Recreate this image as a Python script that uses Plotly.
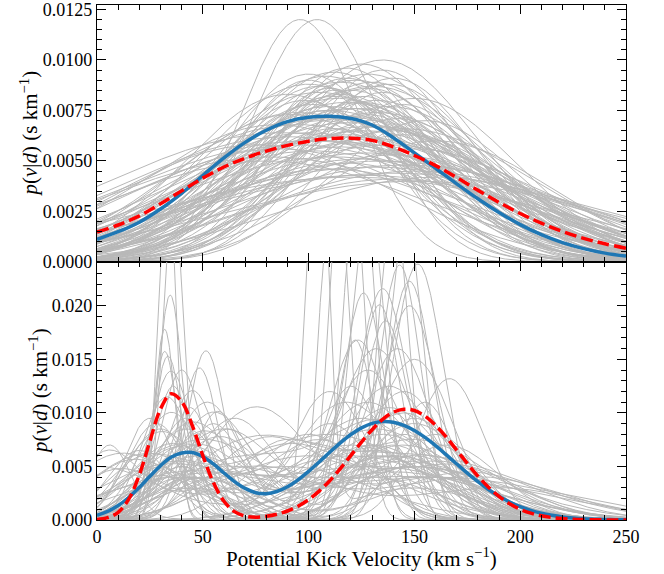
import numpy as np
import plotly.graph_objects as go

# ---------------- data ----------------
V_TOP = list(range(0, 251, 10))
TOP_BLUE = [0.00112, 0.00150, 0.00197, 0.00262, 0.00340, 0.00428, 0.00515, 0.00592,
            0.00652, 0.00695, 0.00716, 0.00721, 0.00710, 0.00678, 0.00615, 0.00540,
            0.00464, 0.00387, 0.00313, 0.00245, 0.00185, 0.00135, 0.00096, 0.00066,
            0.00044, 0.00029]
TOP_RED = [0.00148, 0.00183, 0.00228, 0.00288, 0.00352, 0.00415, 0.00470, 0.00514,
           0.00549, 0.00577, 0.00598, 0.00611, 0.00613, 0.00602, 0.00570, 0.00527,
           0.00477, 0.00418, 0.00355, 0.00295, 0.00240, 0.00192, 0.00151, 0.00117,
           0.00090, 0.00068]

V_BOT = list(range(0, 251, 5))
BOT_BLUE = [0.00044, 0.00080, 0.00135, 0.00210, 0.00304, 0.00408, 0.00507, 0.00585,
            0.00626, 0.00631, 0.00592, 0.00523, 0.00439, 0.00359, 0.00295, 0.00255,
            0.00246, 0.00266, 0.00310, 0.00375, 0.00454, 0.00542, 0.00633, 0.00720,
            0.00798, 0.00860, 0.00902, 0.00920, 0.00913, 0.00884, 0.00836, 0.00771,
            0.00695, 0.00610, 0.00523, 0.00438, 0.00358, 0.00285, 0.00222, 0.00168,
            0.00124, 0.00090, 0.00064, 0.00044, 0.00029, 0.00019, 0.00012, 0.00008,
            0.00005, 0.00003, 0.00002]
BOT_RED = [0.00005, 0.00022, 0.00072, 0.00195, 0.00421, 0.00735, 0.01036, 0.01179,
           0.01106, 0.00884, 0.00602, 0.00350, 0.00175, 0.00078, 0.00036, 0.00026,
           0.00035, 0.00054, 0.00084, 0.00129, 0.00191, 0.00270, 0.00367, 0.00480,
           0.00603, 0.00727, 0.00843, 0.00940, 0.01006, 0.01034, 0.01022, 0.00970,
           0.00885, 0.00775, 0.00653, 0.00528, 0.00410, 0.00306, 0.00220, 0.00152,
           0.00100, 0.00064, 0.00039, 0.00023, 0.00013, 0.00007, 0.00004, 0.00002,
           0.00001, 0.00000, 0.00000]

# grey posterior draws, top panel: peak location, width, peak height
TOP_MU = [96, 104, 135, 125, 118, 112, 128, 108, 140, 122, 115, 100, 130, 110, 120, 105,
          90, 126, 114, 132, 118, 102, 138, 124, 110, 95, 128, 116, 142, 106, 120, 85,
          134, 112, 126, 100, 145, 118, 90, 130, 108, 122, 138, 115, 150, 102, 128, 140,
          112, 125, 135, 118, 145, 130, 110, 150, 140, 125, 140, 160, 86, 80, 75, 95,
          100, 112, 122, 135, 145, 155, 108, 98, 130, 120, 140, 160, 150, 120,
          115, 125, 105, 132, 118, 128, 110, 138, 122, 100, 145, 112, 130, 120, 108, 135,
          92, 150, 127, 117, 88, 95, 82, 100]
TOP_SIG = [28, 30, 45, 42, 40, 44, 48, 46, 40, 50, 52, 50, 55, 38, 45, 55,
           48, 36, 58, 50, 62, 44, 52, 56, 60, 58, 40, 66, 46, 52, 70, 62,
           60, 48, 64, 66, 55, 72, 80, 68, 75, 58, 72, 62, 60, 70, 78, 65,
           80, 70, 85, 55, 80, 90, 68, 75, 95, 85, 70, 72, 70, 75, 65, 72,
           36, 32, 30, 35, 38, 45, 40, 42, 44, 35, 50, 55, 90, 95,
           48, 52, 45, 58, 42, 46, 54, 44, 60, 40, 62, 50, 47, 56, 65, 38,
           55, 48, 68, 74, 85, 78, 80, 88]
TOP_AMP = [0.0120, 0.0120, 0.0100, 0.0098, 0.0096, 0.0094, 0.0093, 0.0092, 0.0091, 0.0090,
           0.0089, 0.0088, 0.0087, 0.0086, 0.0085, 0.0084, 0.0083, 0.0082, 0.0081, 0.0080,
           0.0079, 0.0078, 0.0077, 0.0076, 0.0075, 0.0074, 0.0073, 0.0072, 0.0071, 0.0070,
           0.0069, 0.0068, 0.0067, 0.0066, 0.0065, 0.0064, 0.0063, 0.0062, 0.0062, 0.0061,
           0.0060, 0.0059, 0.0058, 0.0057, 0.0056, 0.0055, 0.0054, 0.0053, 0.0052, 0.0051,
           0.0050, 0.0049, 0.0048, 0.0047, 0.0046, 0.0045, 0.0044, 0.0043, 0.0041, 0.0042,
           0.0056, 0.0050, 0.0058, 0.0068, 0.0090, 0.0085, 0.0080, 0.0084, 0.0078, 0.0070,
           0.0075, 0.0080, 0.0070, 0.0065, 0.0065, 0.0060, 0.0040, 0.0042,
           0.0083, 0.0079, 0.0087, 0.0074, 0.0091, 0.0086, 0.0077, 0.0088, 0.0072, 0.0093,
           0.0066, 0.0082, 0.0089, 0.0076, 0.0071, 0.0095, 0.0073, 0.0081, 0.0067, 0.0063,
           0.0064, 0.0058, 0.0052, 0.0060]

# grey posterior draws, bottom panel: two components each (location, width, height)
BOT_MU1 = [33, 36, 34.6, 32, 32, 33.5, 51.5, 48.4, 40, 35, 104, 118, 124, 128, 126, 122,
           151.6, 143, 147.6, 135, 133.5, 147.7, 136.4, 123.3, 166.6, 140, 146, 112,
           75, 6, 45, 55, 30, 60, 25, 40, 50, 20, 35, 45, 65, 80, 90, 38, 28, 52, 42,
           58, 33, 47, 15, 30, 60, 40, 70, 25, 44, 36, 55, 20, 65, 48, 35, 85, 10, 50,
           38, 30, 57, 42, 75, 5, 40, 62, 100, 110, 0, 12]
BOT_SIG1 = [4, 5, 6, 5, 6, 7, 9, 9, 10, 10, 5, 7, 7, 8, 10, 9,
            12, 10, 11, 12, 10, 13, 11, 14, 16, 7, 8, 6,
            25, 10, 20, 18, 18, 25, 20, 25, 30, 25, 15, 12, 20, 25, 30, 22, 14, 16, 18,
            22, 12, 20, 20, 30, 40, 35, 30, 12, 10, 9, 14, 15, 30, 25, 20, 20, 20, 18,
            28, 16, 12, 14, 35, 15, 40, 15, 25, 18, 30, 25]
BOT_AMP1 = [0.035, 0.030, 0.021, 0.0178, 0.0157, 0.0153, 0.0158, 0.0142, 0.0140, 0.0139,
            0.040, 0.040, 0.035, 0.030, 0.0212, 0.0168, 0.0239, 0.0238, 0.0223, 0.0216,
            0.0201, 0.0200, 0.0186, 0.0168, 0.0132, 0.030, 0.028, 0.035,
            0.0105, 0.0070, 0.0090, 0.0100, 0.0080, 0.0085, 0.0060, 0.0070, 0.0075, 0.0055,
            0.0100, 0.0120, 0.0095, 0.0075, 0.0070, 0.0065, 0.0090, 0.0110, 0.0085, 0.0078,
            0.0115, 0.0068, 0.0050, 0.0045, 0.0050, 0.0040, 0.0060, 0.0095, 0.0105, 0.0125,
            0.0090, 0.0065, 0.0055, 0.0060, 0.0070, 0.0060, 0.0045, 0.0080, 0.0055, 0.0085,
            0.0100, 0.0095, 0.0050, 0.0060, 0.0035, 0.0085, 0.0080, 0.0120, 0.0050, 0.0062]
BOT_MU2 = [140, 130, 140, 145, 125, 150, 140, 130, 150, 135, 150, 40, 45, 35, 40, 50,
           40, 30, 55, 45, 35, 60, 40, 30, 45, 50, 40, 150,
           160, 130, 140, 145, 120, 150, 130, 150, 160, 110, 125, 135, 145, 155, 170, 140,
           118, 138, 128, 150, 142, 132, 100, 130, 180, 160, 150, 110, 160, 155, 120, 145,
           135, 165, 105, 150, 120, 145, 175, 138, 128, 150, 190, 90, 150, 132, 30, 40,
           130, 150]
BOT_SIG2 = [25, 30, 22, 20, 30, 25, 15, 20, 30, 25, 30, 20, 15, 20, 15, 20,
            15, 12, 15, 20, 10, 20, 18, 15, 20, 20, 15, 25,
            30, 30, 35, 30, 35, 25, 40, 40, 35, 40, 28, 30, 20, 30, 30, 45,
            25, 22, 18, 18, 16, 32, 40, 50, 40, 60, 50, 20, 20, 14, 14, 25,
            28, 25, 25, 35, 45, 40, 35, 26, 24, 22, 40, 40, 60, 18, 15, 12,
            35, 45]
BOT_AMP2 = [0.006, 0.004, 0.007, 0.008, 0.005, 0.006, 0.010, 0.007, 0.005, 0.006,
            0.003, 0.003, 0.004, 0.004, 0.005, 0.004, 0.004, 0.005, 0.004, 0.003,
            0.006, 0.003, 0.004, 0.005, 0.004, 0.004, 0.005, 0.004,
            0.0040, 0.0070, 0.0060, 0.0070, 0.0070, 0.0090, 0.0065, 0.0050, 0.0055, 0.0080,
            0.0095, 0.0080, 0.0120, 0.0060, 0.0050, 0.0045, 0.0110, 0.0125, 0.0140, 0.0150,
            0.0160, 0.0085, 0.0060, 0.0050, 0.0040, 0.0040, 0.0060, 0.0090, 0.0080, 0.0110,
            0.0125, 0.0100, 0.0090, 0.0070, 0.0075, 0.0075, 0.0060, 0.0055, 0.0045, 0.0105,
            0.0110, 0.0095, 0.0030, 0.0050, 0.0040, 0.0160, 0.0040, 0.0070,
            0.0060, 0.0050]

X_TICKS = [0, 50, 100, 150, 200, 250]
TOP_YTICKS = [0.0, 0.0025, 0.0050, 0.0075, 0.0100, 0.0125]
BOT_YTICKS = [0.000, 0.005, 0.010, 0.015, 0.020]
X_TITLE = "Potential Kick Velocity (km s<sup>−1</sup>)"
Y_TITLE = "<i>p</i>(<i>v</i>|<i>d</i>) (s km<sup>−1</sup>)"

# ---------------- build ----------------
grid = np.linspace(0, 250, 1001)


def bump(mu, sig, amp):
    return amp * np.exp(-(grid - mu) ** 2 / (2.0 * sig ** 2))


def join(curves):
    xs, ys = [], []
    for c in curves:
        xs.extend(grid.tolist() + [None])
        ys.extend(c.tolist() + [None])
    return xs, ys


top_curves = [bump(m, s, a) for m, s, a in zip(TOP_MU, TOP_SIG, TOP_AMP)]
bot_curves = [bump(m1, s1, a1) + bump(m2, s2, a2)
              for m1, s1, a1, m2, s2, a2 in zip(BOT_MU1, BOT_SIG1, BOT_AMP1,
                                                 BOT_MU2, BOT_SIG2, BOT_AMP2)]

GREY = "rgb(184,184,184)"
BLUE = "#1f77b4"
RED = "#ff0000"
FONT = "Liberation Serif"
FS_TICK = 18
FS_TITLE = 21

fig = go.Figure()
tx, ty = join(top_curves)
bx, by = join(bot_curves)
fig.add_trace(go.Scatter(x=tx, y=ty, mode="lines", line=dict(color=GREY, width=1),
                         xaxis="x", yaxis="y", hoverinfo="skip", showlegend=False))
fig.add_trace(go.Scatter(x=bx, y=by, mode="lines", line=dict(color=GREY, width=1),
                         xaxis="x2", yaxis="y2", hoverinfo="skip", showlegend=False))
fig.add_trace(go.Scatter(x=V_TOP, y=TOP_BLUE, mode="lines",
                         line=dict(color=BLUE, width=3.5, shape="spline"),
                         xaxis="x", yaxis="y", showlegend=False))
fig.add_trace(go.Scatter(x=V_TOP, y=TOP_RED, mode="lines",
                         line=dict(color=RED, width=3.5, dash="12px,5px", shape="spline"),
                         xaxis="x", yaxis="y", showlegend=False))
fig.add_trace(go.Scatter(x=V_BOT, y=BOT_BLUE, mode="lines",
                         line=dict(color=BLUE, width=3.5, shape="spline"),
                         xaxis="x2", yaxis="y2", showlegend=False))
fig.add_trace(go.Scatter(x=V_BOT, y=BOT_RED, mode="lines",
                         line=dict(color=RED, width=3.5, dash="12px,5px", shape="spline"),
                         xaxis="x2", yaxis="y2", showlegend=False))

axis_common = dict(showline=True, linecolor="black", linewidth=1.3, mirror="allticks",
                   ticks="inside", ticklen=9, tickwidth=1.3, tickcolor="black",
                   showgrid=False, zeroline=False, automargin=False,
                   ticklabeloverflow="allow",
                   tickfont=dict(family=FONT, size=FS_TICK, color="black"))

title_font = dict(family=FONT, size=FS_TITLE, color="black")

fig.update_layout(
    width=664, height=574,
    margin=dict(l=97, r=38, t=5, b=54, autoexpand=False),
    paper_bgcolor="white", plot_bgcolor="white",
    font=dict(family=FONT, size=FS_TICK, color="black"),
    xaxis=dict(axis_common, domain=[0, 1], range=[0, 250], anchor="y", matches="x2",
               tickvals=X_TICKS, showticklabels=False,
               minor=dict(ticks="inside", dtick=10, tick0=0, ticklen=5, tickwidth=1,
                          tickcolor="black")),
    yaxis=dict(axis_common, domain=[0.501, 1], range=[0, 0.01272], anchor="x",
               tickvals=TOP_YTICKS, tickformat=".4f",
               minor=dict(ticks="inside", dtick=0.0005, tick0=0, ticklen=5, tickwidth=1,
                          tickcolor="black")),
    xaxis2=dict(axis_common, domain=[0, 1], range=[0, 250], anchor="y2",
                tickvals=X_TICKS,
                minor=dict(ticks="inside", dtick=10, tick0=0, ticklen=5, tickwidth=1,
                           tickcolor="black")),
    yaxis2=dict(axis_common, domain=[0, 0.501], range=[0, 0.02409], anchor="x2",
                tickvals=BOT_YTICKS, tickformat=".3f",
                minor=dict(ticks="inside", dtick=0.001, tick0=0, ticklen=5, tickwidth=1,
                           tickcolor="black")),
    annotations=[
        dict(text=X_TITLE, xref="paper", yref="paper", x=0.5, y=-0.073,
             xanchor="center", yanchor="middle", showarrow=False, font=title_font),
        dict(text=Y_TITLE, xref="paper", yref="paper", x=-0.1285, y=0.7505,
             xanchor="center", yanchor="middle", textangle=-90, showarrow=False,
             font=title_font),
        dict(text=Y_TITLE, xref="paper", yref="paper", x=-0.1096, y=0.2505,
             xanchor="center", yanchor="middle", textangle=-90, showarrow=False,
             font=title_font),
    ],
)

fig.write_html("out.html", config={"displayModeBar": False},
               post_script="document.body.style.margin='0px';document.body.style.padding='0px';")
